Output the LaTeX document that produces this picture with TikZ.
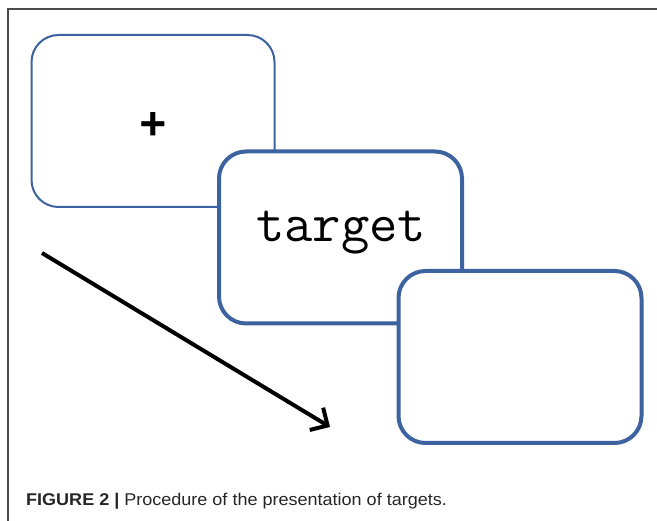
\documentclass[tikz,border=0pt]{standalone}
\usepackage{fontspec}
\usepackage{tikz}
\usetikzlibrary{arrows.meta, positioning, calc}
\newfontfamily\capfont{Liberation Sans}[FakeStretch=1.06]
\newfontfamily\plusfont{Liberation Mono}
\definecolor{slideblue}{HTML}{3D62A0}
\definecolor{framegray}{HTML}{4A4A4A}
\tikzset{
  slide/.style={rectangle, rounded corners=27pt, draw=slideblue, fill=white, minimum width=243pt, minimum height=172pt, inner sep=0pt},
  thinslide/.style={slide, line width=2pt},
  thickslide/.style={slide, line width=4pt}
}

\begin{document}
\begin{tikzpicture}[x=1pt,y=-1pt]
\useasboundingbox (0,0) rectangle (657,521);
\draw[color=framegray, line width=1.5pt] (8,521) -- (8,9) -- (657,9);
\draw (153,121) node[thinslide] (s1) {};
\draw (153,126) node[font=\plusfont\bfseries\fontsize{46}{46}\selectfont] (fix) {+};
\draw (340.5,237.5) node[thickslide] (s2) {};
\draw (341,242) node[anchor=base, font=\ttfamily\fontsize{55}{55}\selectfont] (targ) {target};
\draw (520,357) node[thickslide] (s3) {};
\coordinate (a1) at (42,253);
\coordinate (a2) at (330,427);
\draw[line width=4pt, -{Straight Barb[length=13pt,width=26pt,line width=4pt]}] (a1) -- (a2);
\draw (26,506) node[anchor=base west, inner sep=0pt, text=black!85, font=\capfont\fontsize{17}{17}\selectfont] (cap) {\textbf{FIGURE 2 |} Procedure of the presentation of targets.};
\end{tikzpicture}
\end{document}
